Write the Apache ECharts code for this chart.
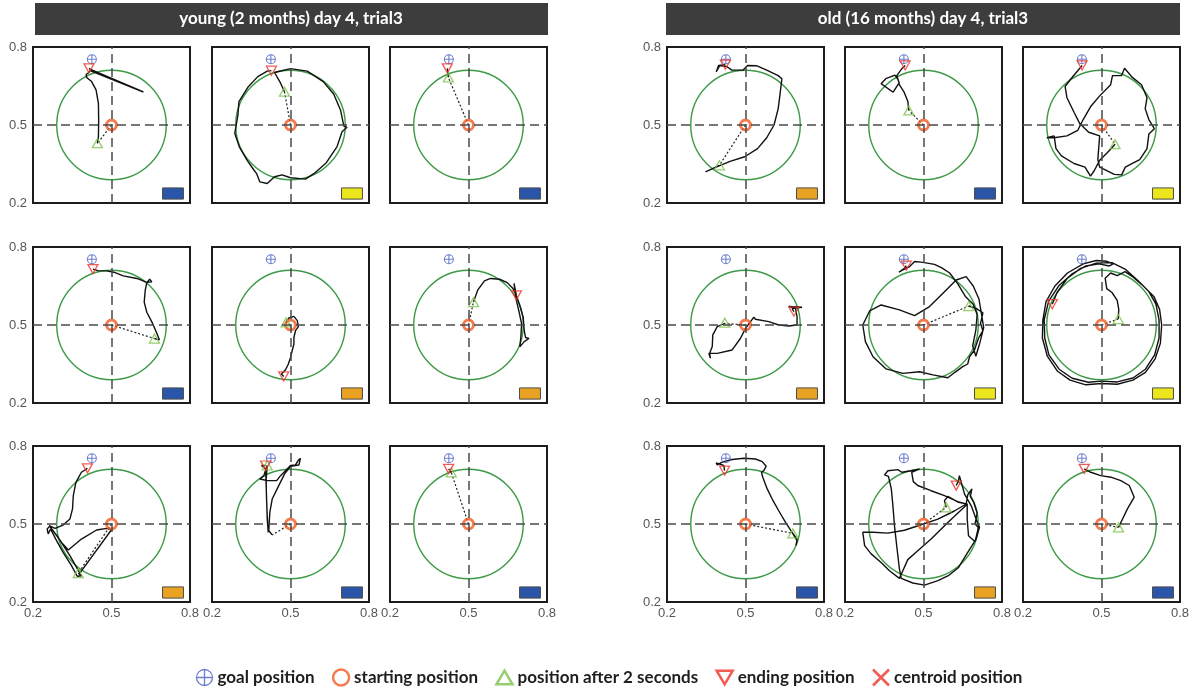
<!DOCTYPE html>
<html>
<head>
<meta charset="utf-8">
<script src="https://cdn.jsdelivr.net/npm/echarts/dist/echarts.min.js"></script>
<style>
  html, body { margin: 0; padding: 0; background: #fff; }
  #main { width: 1195px; height: 690px; }
</style>
</head>
<body>
<div id="main"></div>
<script>
// group headers
const groupTitles = ["young (2 months) day 4, trial3", "old (16 months) day 4, trial3"];
const tickValues = [0.2, 0.5, 0.8];

// shared positions in every panel
const goalPos = [0.425, 0.753];
const startPos = [0.5, 0.5];
const arenaRadius = 0.21;
const boxRange = [0.695, 0.215, 0.775, 0.258];

// panel order: young rows 1-3 (3 each), then old rows 1-3
const boxColors = [
  "blue", "yellow", "blue",
  "blue", "orange", "orange",
  "orange", "blue", "blue",
  "orange", "blue", "yellow",
  "orange", "yellow", "yellow",
  "blue", "orange", "blue",
];
const after2s = [
  [0.446, 0.430], [0.477, 0.628], [0.423, 0.683],
  [0.664, 0.448], [0.483, 0.510], [0.519, 0.588],
  [0.373, 0.311], [0.411, 0.725], [0.434, 0.699],
  [0.400, 0.345], [0.444, 0.556], [0.552, 0.426],
  [0.421, 0.509], [0.673, 0.573], [0.564, 0.523],
  [0.681, 0.464], [0.587, 0.564], [0.565, 0.487],
];
const endPos = [
  [0.414, 0.718], [0.427, 0.709], [0.419, 0.718],
  [0.429, 0.715], [0.474, 0.302], [0.683, 0.614],
  [0.408, 0.714], [0.405, 0.725], [0.424, 0.712],
  [0.423, 0.732], [0.430, 0.729], [0.426, 0.729],
  [0.685, 0.551], [0.434, 0.728], [0.312, 0.580],
  [0.420, 0.705], [0.625, 0.648], [0.434, 0.712],
];

// swim paths (first point = where the dotted first 2 s ends)
const trailY1 = [[0.446,0.429],[0.450,0.455],[0.451,0.519],[0.450,0.583],[0.441,0.635],[0.424,0.667],[0.405,0.683],[0.403,0.694],[0.412,0.701],[0.418,0.709],[0.622,0.627],[0.615,0.632],[0.420,0.714],[0.414,0.718]];
const trailY2 = [[0.477,0.628],[0.459,0.667],[0.439,0.702],[0.500,0.717],[0.564,0.707],[0.625,0.667],[0.665,0.619],[0.691,0.558],[0.704,0.496],[0.716,0.491],[0.697,0.474],[0.678,0.417],[0.637,0.355],[0.595,0.317],[0.557,0.292],[0.500,0.297],[0.468,0.308],[0.439,0.301],[0.411,0.275],[0.383,0.281],[0.370,0.314],[0.360,0.327],[0.335,0.363],[0.304,0.417],[0.287,0.468],[0.299,0.538],[0.303,0.590],[0.337,0.645],[0.375,0.686],[0.411,0.707],[0.427,0.709]];
const trailY3 = [[0.423,0.683],[0.421,0.700],[0.419,0.718]];
const trailY4 = [[0.664,0.448],[0.683,0.443],[0.672,0.471],[0.655,0.510],[0.635,0.549],[0.625,0.588],[0.629,0.634],[0.635,0.663],[0.646,0.676],[0.654,0.666],[0.635,0.664],[0.597,0.679],[0.545,0.689],[0.509,0.703],[0.481,0.708],[0.448,0.709],[0.429,0.715]];
const trailY5 = [[0.483,0.510],[0.494,0.527],[0.513,0.533],[0.526,0.517],[0.530,0.494],[0.519,0.478],[0.513,0.452],[0.513,0.426],[0.506,0.400],[0.500,0.374],[0.491,0.348],[0.481,0.328],[0.465,0.312],[0.474,0.302]];
const trailY6 = [[0.519,0.588],[0.535,0.634],[0.561,0.670],[0.584,0.679],[0.619,0.676],[0.648,0.663],[0.670,0.640],[0.683,0.614],[0.696,0.575],[0.709,0.530],[0.713,0.478],[0.718,0.452],[0.731,0.448],[0.713,0.436],[0.696,0.416],[0.700,0.452],[0.703,0.504],[0.692,0.556],[0.683,0.595],[0.677,0.634],[0.674,0.660],[0.679,0.663],[0.683,0.614]];
const trailY7 = [[0.373,0.311],[0.385,0.301],[0.369,0.299],[0.347,0.340],[0.315,0.391],[0.287,0.442],[0.267,0.481],[0.258,0.462],[0.254,0.481],[0.264,0.491],[0.296,0.449],[0.341,0.378],[0.379,0.311],[0.500,0.478],[0.481,0.483],[0.443,0.477],[0.385,0.442],[0.335,0.400],[0.309,0.429],[0.277,0.474],[0.262,0.494],[0.284,0.483],[0.315,0.496],[0.341,0.519],[0.351,0.558],[0.354,0.609],[0.364,0.660],[0.385,0.699],[0.408,0.714]];
const trailY8 = [[0.430,0.458],[0.417,0.474],[0.421,0.545],[0.430,0.596],[0.449,0.635],[0.477,0.692],[0.500,0.722],[0.532,0.727],[0.538,0.753],[0.529,0.744],[0.519,0.727],[0.500,0.725],[0.475,0.699],[0.462,0.686],[0.447,0.667],[0.411,0.667],[0.383,0.673],[0.398,0.686],[0.411,0.725],[0.407,0.673],[0.408,0.609],[0.411,0.532],[0.415,0.468],[0.411,0.519],[0.407,0.648],[0.405,0.712],[0.389,0.725],[0.405,0.725]];
const trailY9 = [[0.434,0.699],[0.429,0.706],[0.424,0.712]];
const trailO1 = [[0.400,0.345],[0.372,0.331],[0.347,0.320],[0.383,0.336],[0.441,0.360],[0.497,0.378],[0.546,0.409],[0.581,0.451],[0.609,0.500],[0.625,0.563],[0.632,0.619],[0.639,0.678],[0.625,0.690],[0.581,0.711],[0.542,0.728],[0.508,0.729],[0.490,0.711],[0.448,0.711],[0.428,0.725],[0.402,0.729],[0.388,0.704],[0.397,0.729],[0.423,0.732]];
const trailO2 = [[0.444,0.556],[0.440,0.591],[0.426,0.626],[0.405,0.659],[0.384,0.626],[0.338,0.659],[0.356,0.678],[0.391,0.692],[0.402,0.676],[0.408,0.659],[0.398,0.690],[0.416,0.715],[0.430,0.729]];
const trailO3 = [[0.552,0.426],[0.521,0.392],[0.493,0.364],[0.472,0.324],[0.458,0.303],[0.437,0.338],[0.395,0.352],[0.347,0.381],[0.326,0.409],[0.319,0.458],[0.291,0.451],[0.319,0.451],[0.368,0.458],[0.409,0.479],[0.430,0.521],[0.458,0.570],[0.493,0.612],[0.535,0.655],[0.542,0.690],[0.577,0.690],[0.588,0.718],[0.618,0.683],[0.653,0.655],[0.674,0.605],[0.667,0.563],[0.681,0.521],[0.702,0.486],[0.681,0.465],[0.674,0.409],[0.646,0.367],[0.618,0.352],[0.591,0.338],[0.577,0.308],[0.549,0.310],[0.493,0.338],[0.486,0.367],[0.493,0.458],[0.451,0.472],[0.416,0.507],[0.395,0.549],[0.368,0.605],[0.361,0.648],[0.382,0.676],[0.426,0.729]];
const trailO4 = [[0.421,0.506],[0.392,0.494],[0.375,0.462],[0.373,0.417],[0.363,0.391],[0.366,0.372],[0.360,0.391],[0.392,0.391],[0.449,0.404],[0.481,0.449],[0.500,0.487],[0.519,0.513],[0.532,0.530],[0.538,0.522],[0.589,0.513],[0.627,0.500],[0.665,0.496],[0.697,0.500],[0.697,0.532],[0.691,0.564],[0.665,0.571],[0.716,0.568],[0.678,0.564],[0.685,0.551]];
const trailO5 = [[0.673,0.573],[0.701,0.564],[0.727,0.547],[0.718,0.506],[0.727,0.478],[0.710,0.449],[0.695,0.404],[0.676,0.378],[0.669,0.350],[0.650,0.340],[0.620,0.318],[0.593,0.297],[0.536,0.308],[0.485,0.320],[0.421,0.314],[0.357,0.331],[0.307,0.378],[0.278,0.436],[0.268,0.500],[0.294,0.554],[0.338,0.577],[0.408,0.558],[0.466,0.536],[0.523,0.571],[0.587,0.635],[0.625,0.673],[0.663,0.686],[0.690,0.650],[0.712,0.600],[0.722,0.540],[0.730,0.490],[0.715,0.430],[0.700,0.380],[0.688,0.420],[0.700,0.480],[0.705,0.540],[0.690,0.580],[0.660,0.610],[0.630,0.660],[0.600,0.700],[0.570,0.720],[0.542,0.733],[0.497,0.741],[0.466,0.744],[0.447,0.725],[0.421,0.712],[0.406,0.703],[0.427,0.718],[0.434,0.728]];
const trailO6 = [[0.564,0.523],[0.566,0.560],[0.560,0.595],[0.540,0.625],[0.520,0.640],[0.514,0.680],[0.535,0.700],[0.560,0.690],[0.590,0.705],[0.620,0.685],[0.660,0.650],[0.700,0.610],[0.722,0.560],[0.730,0.500],[0.725,0.430],[0.705,0.370],[0.668,0.318],[0.620,0.288],[0.560,0.272],[0.500,0.275],[0.440,0.270],[0.380,0.288],[0.332,0.322],[0.293,0.380],[0.274,0.450],[0.276,0.520],[0.288,0.590],[0.322,0.650],[0.370,0.700],[0.430,0.735],[0.480,0.748],[0.520,0.745],[0.545,0.735],[0.530,0.727],[0.490,0.735],[0.440,0.727],[0.388,0.697],[0.338,0.652],[0.298,0.592],[0.281,0.520],[0.283,0.450],[0.299,0.385],[0.338,0.330],[0.388,0.295],[0.450,0.280],[0.500,0.284],[0.560,0.281],[0.620,0.296],[0.668,0.330],[0.703,0.385],[0.720,0.450],[0.720,0.520],[0.708,0.580],[0.680,0.630],[0.640,0.670],[0.590,0.715],[0.540,0.740],[0.480,0.738],[0.420,0.718],[0.370,0.680],[0.330,0.625],[0.312,0.580]];
const trailO7 = [[0.681,0.464],[0.697,0.442],[0.693,0.417],[0.697,0.436],[0.678,0.468],[0.653,0.506],[0.627,0.551],[0.602,0.596],[0.583,0.635],[0.566,0.680],[0.561,0.699],[0.570,0.705],[0.579,0.722],[0.564,0.740],[0.538,0.750],[0.494,0.753],[0.449,0.748],[0.417,0.740],[0.405,0.735],[0.392,0.727],[0.388,0.735],[0.417,0.725],[0.420,0.705]];
const trailO8 = [[0.587,0.564],[0.580,0.590],[0.593,0.606],[0.634,0.583],[0.667,0.577],[0.667,0.519],[0.672,0.455],[0.697,0.432],[0.710,0.487],[0.697,0.500],[0.705,0.542],[0.692,0.583],[0.679,0.606],[0.685,0.635],[0.669,0.612],[0.662,0.571],[0.593,0.506],[0.529,0.442],[0.478,0.397],[0.440,0.363],[0.421,0.320],[0.408,0.291],[0.370,0.320],[0.338,0.352],[0.300,0.385],[0.275,0.417],[0.268,0.468],[0.307,0.468],[0.364,0.465],[0.427,0.476],[0.500,0.500],[0.555,0.519],[0.618,0.550],[0.663,0.577],[0.631,0.586],[0.580,0.609],[0.529,0.628],[0.478,0.648],[0.461,0.663],[0.455,0.699],[0.485,0.712],[0.453,0.705],[0.417,0.699],[0.402,0.709],[0.364,0.705],[0.351,0.689],[0.366,0.683],[0.377,0.635],[0.383,0.571],[0.389,0.494],[0.399,0.404],[0.408,0.327],[0.415,0.291],[0.459,0.273],[0.504,0.265],[0.555,0.282],[0.595,0.301],[0.634,0.333],[0.669,0.391],[0.701,0.442],[0.714,0.487],[0.701,0.519],[0.682,0.571],[0.657,0.615],[0.637,0.686],[0.634,0.667],[0.625,0.648]];
const trailO9 = [[0.565,0.487],[0.574,0.506],[0.599,0.558],[0.625,0.603],[0.606,0.648],[0.574,0.667],[0.536,0.680],[0.497,0.686],[0.459,0.699],[0.434,0.712]];

const trails = [trailY1, trailY2, trailY3, trailY4, trailY5, trailY6, trailY7, trailY8, trailY9,
                trailO1, trailO2, trailO3, trailO4, trailO5, trailO6, trailO7, trailO8, trailO9];

const legendNames = ["goal position", "starting position", "position after 2 seconds", "ending position", "centroid position"];

// 颜色
const fillOf = { blue: "#2a55a8", yellow: "#ece71c", orange: "#e9a221" };
const goalColor = "#4a5fc2";
const startColor = "#f15a22";
const greenTri = "#7cc24a";
const redColor = "#ec3326";

const goalIcon = "path://M10,0A10,10,0,1,1,10,20A10,10,0,1,1,10,0ZM0,10L20,10M10,0L10,20";
const upTri = "path://M10,0L20,17L0,17Z";
const downTri = "path://M0,0L20,0L10,17Z";
const crossIcon = "path://M0,0L20,20M20,0L0,20";

const colLeft = [33, 212, 390, 667, 845, 1023];
const rowTop = [47, 247, 446];
const labelFont = "'Liberation Sans', Arial, sans-serif";

let grids = [], xAxes = [], yAxes = [], series = [];

for (let i = 0; i < 18; i++) {
  let g = Math.floor(i / 9);
  let r = Math.floor((i % 9) / 3);
  let c = i % 3;
  grids.push({
    left: colLeft[g * 3 + c], top: rowTop[r], width: 157, height: 156,
    show: true, borderColor: "#1c1c1c", borderWidth: 2, backgroundColor: "#fff",
  });
  xAxes.push({
    gridIndex: i, type: "value", min: 0.2, max: 0.8, interval: 0.3,
    axisLine: { show: false }, axisTick: { show: false }, splitLine: { show: false },
    axisLabel: {
      show: r === 2, color: "#555", fontSize: 13, margin: 5, fontFamily: labelFont,
      showMinLabel: true, showMaxLabel: true,
      formatter: (v) => tickValues.find((t) => Math.abs(t - v) < 1e-6).toFixed(1),
    },
  });
  yAxes.push({
    gridIndex: i, type: "value", min: 0.2, max: 0.8, interval: 0.3,
    axisLine: { show: false }, axisTick: { show: false }, splitLine: { show: false },
    axisLabel: {
      show: c === 0, color: "#555", fontSize: 13, margin: 6, fontFamily: labelFont,
      showMinLabel: true, showMaxLabel: true,
      formatter: (v) => tickValues.find((t) => Math.abs(t - v) < 1e-6).toFixed(1),
    },
  });

  // arena circle + dashed crosshair
  series.push({
    type: "custom", xAxisIndex: i, yAxisIndex: i, z: 1, silent: true,
    data: [[startPos[0], startPos[1], arenaRadius]],
    renderItem: function (params, api) {
      let cen = api.coord([api.value(0), api.value(1)]);
      let s = api.size([api.value(2), api.value(2)]);
      return {
        type: "circle",
        shape: { cx: cen[0], cy: cen[1], r: (s[0] + s[1]) / 2 },
        style: { fill: "none", stroke: "#3d9a46", lineWidth: 1.4 },
      };
    },
    markLine: {
      silent: true, symbol: ["none", "none"], label: { show: false },
      lineStyle: { color: "#4a4a4a", type: [9, 5], width: 1.5 },
      data: [{ xAxis: 0.5 }, { yAxis: 0.5 }],
    },
  });
  // coloured box
  series.push({
    type: "custom", xAxisIndex: i, yAxisIndex: i, z: 1, silent: true,
    encode: { x: [0, 2], y: [1, 3] },
    data: [boxRange],
    renderItem: function (params, api) {
      let p0 = api.coord([api.value(0), api.value(3)]);
      let p1 = api.coord([api.value(2), api.value(1)]);
      return {
        type: "rect",
        shape: { x: p0[0], y: p0[1], width: p1[0] - p0[0], height: p1[1] - p0[1] },
        style: { fill: fillOf[boxColors[i]], stroke: "#4d4d4d", lineWidth: 1 },
      };
    },
  });
  // first 2 seconds (dotted)
  series.push({
    type: "line", xAxisIndex: i, yAxisIndex: i, z: 2, silent: true,
    symbol: "none", data: [startPos, trails[i][0]],
    lineStyle: { color: "#222", width: 1.2, type: [2, 2] },
  });
  // rest of the swim path
  series.push({
    type: "line", xAxisIndex: i, yAxisIndex: i, z: 3, silent: true,
    symbol: "none", data: trails[i],
    lineStyle: { color: "#111", width: 1.4 },
  });
  series.push({
    name: "goal position", type: "scatter", xAxisIndex: i, yAxisIndex: i, z: 4, silent: true,
    symbol: goalIcon, symbolSize: 9, data: [goalPos],
    itemStyle: { color: "none", borderColor: goalColor, borderWidth: 1.1 },
  });
  series.push({
    name: "starting position", type: "scatter", xAxisIndex: i, yAxisIndex: i, z: 4, silent: true,
    symbol: "circle", symbolSize: 10, data: [startPos],
    itemStyle: { color: "none", borderColor: startColor, borderWidth: 3 },
  });
  series.push({
    name: "position after 2 seconds", type: "scatter", xAxisIndex: i, yAxisIndex: i, z: 4, silent: true,
    symbol: upTri, symbolSize: [10, 9], data: [after2s[i]],
    itemStyle: { color: "none", borderColor: greenTri, borderWidth: 1.3 },
  });
  series.push({
    name: "ending position", type: "scatter", xAxisIndex: i, yAxisIndex: i, z: 4, silent: true,
    symbol: downTri, symbolSize: [10, 9], data: [endPos[i]],
    itemStyle: { color: "none", borderColor: redColor, borderWidth: 1.3 },
  });
}
series.push({
  name: "centroid position", type: "scatter", xAxisIndex: 0, yAxisIndex: 0,
  symbol: crossIcon, data: [],
  itemStyle: { color: "none", borderColor: redColor, borderWidth: 2 },
});

let legendIcons = [goalIcon, "circle", upTri, downTri, crossIcon];
let legendColors = [goalColor, startColor, greenTri, redColor, redColor];
let legendWidths = [1.3, 2.5, 2.5, 2.5, 2.5];

let option = {
  animation: false,
  grid: grids,
  xAxis: xAxes,
  yAxis: yAxes,
  series: series,
  legend: {
    left: 194, top: 667, padding: 0, itemWidth: 16, itemHeight: 16, itemGap: 16,
    selectedMode: false,
    textStyle: { fontFamily: "Lato, sans-serif", fontWeight: "bold", fontSize: 17, color: "#1e1e1e" },
    data: legendNames.map((n, k) => ({
      name: n, icon: legendIcons[k],
      itemStyle: { color: "none", borderColor: legendColors[k], borderWidth: legendWidths[k] },
    })),
  },
  graphic: [
    { type: "rect", shape: { x: 35, y: 3, width: 513, height: 32 }, style: { fill: "#3d3d3d" } },
    { type: "rect", shape: { x: 666, y: 3, width: 514, height: 32 }, style: { fill: "#3d3d3d" } },
    {
      type: "text", x: 291, y: 19,
      style: { text: groupTitles[0], fill: "#fff", font: "bold 17px Lato, sans-serif", textAlign: "center", textVerticalAlign: "middle" },
    },
    {
      type: "text", x: 923, y: 19,
      style: { text: groupTitles[1], fill: "#fff", font: "bold 17px Lato, sans-serif", textAlign: "center", textVerticalAlign: "middle" },
    },
  ],
};

let chart = echarts.init(document.getElementById("main"));
chart.setOption(option);
</script>
</body>
</html>
